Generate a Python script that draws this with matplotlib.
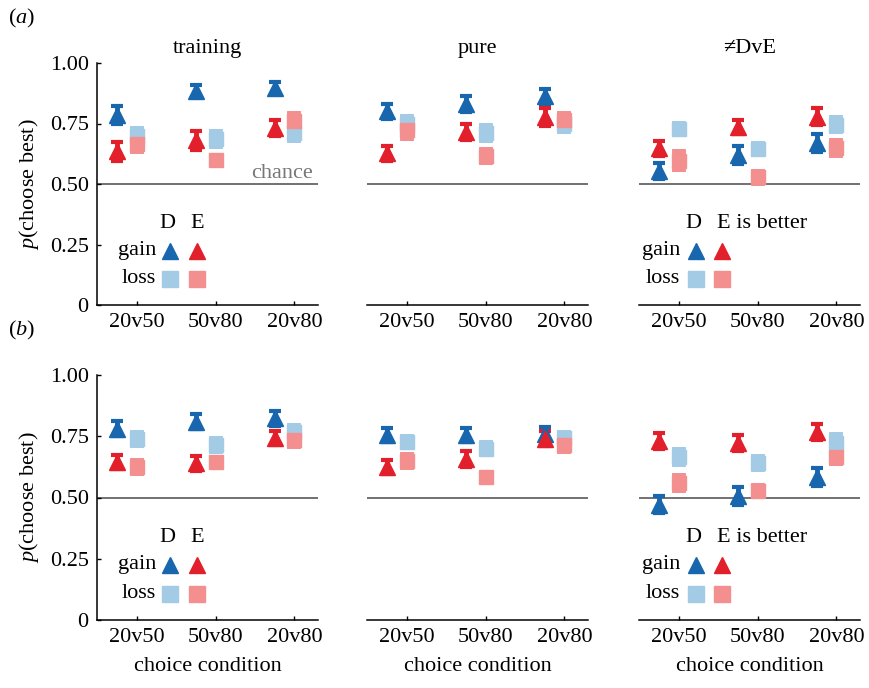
import matplotlib
matplotlib.use("Agg")
import matplotlib.pyplot as plt
import numpy as np

plt.rcParams['font.family'] = ['Liberation Serif', 'DejaVu Serif']
plt.rcParams['font.serif'] = ['Liberation Serif', 'DejaVu Serif']
plt.rcParams['mathtext.fontset'] = 'custom'
plt.rcParams['mathtext.rm'] = 'serif'
plt.rcParams['mathtext.it'] = 'serif:italic'

conditions = ["20v50", "50v80", "20v80"]
panel_titles = ["training", "pure", "\u2260DvE"]
yticks = [0, 0.25, 0.5, 0.75, 1.0]
ytick_labels = ["0", "0.25", "0.50", "0.75", "1.00"]

# row (a): values per panel [training, pure, ≠DvE]
a_D_gain = [[0.785, 0.885, 0.895], [0.800, 0.830, 0.862], [0.553, 0.620, 0.670]]
a_E_gain = [[0.635, 0.680, 0.730], [0.627, 0.715, 0.777], [0.648, 0.735, 0.777]]
a_D_loss = [[0.700, 0.685, 0.710], [0.750, 0.710, 0.750], [0.727, 0.645, 0.745]]
a_E_loss = [[0.665, 0.600, 0.760], [0.722, 0.615, 0.765], [0.597, 0.528, 0.650]]
a_D_gain_err = [[0.037, 0.025, 0.025], [0.030, 0.033, 0.030], [0.033, 0.036, 0.038]]
a_E_gain_err = [[0.039, 0.039, 0.033], [0.030, 0.035, 0.036], [0.031, 0.030, 0.035]]
a_D_loss_err = [[0.040, 0.042, 0.040], [0.040, 0.042, 0.042], [0.034, 0.034, 0.040]]
a_E_loss_err = [[0.042, 0.028, 0.042], [0.044, 0.036, 0.038], [0.046, 0.036, 0.042]]

# row (b)
b_D_gain = [[0.780, 0.810, 0.823], [0.755, 0.755, 0.760], [0.470, 0.505, 0.584]]
b_E_gain = [[0.645, 0.640, 0.743], [0.624, 0.657, 0.740], [0.730, 0.722, 0.767]]
b_D_loss = [[0.740, 0.715, 0.767], [0.727, 0.700, 0.742], [0.665, 0.640, 0.722]]
b_E_loss = [[0.625, 0.645, 0.735], [0.650, 0.584, 0.714], [0.560, 0.527, 0.665]]
b_D_gain_err = [[0.031, 0.030, 0.030], [0.030, 0.030, 0.028], [0.035, 0.036, 0.036]]
b_E_gain_err = [[0.028, 0.030, 0.030], [0.030, 0.034, 0.030], [0.033, 0.033, 0.031]]
b_D_loss_err = [[0.036, 0.036, 0.036], [0.034, 0.034, 0.034], [0.040, 0.036, 0.044]]
b_E_loss_err = [[0.038, 0.030, 0.036], [0.036, 0.030, 0.036], [0.040, 0.033, 0.038]]

C_DG = '#1866ad'
C_EG = '#e2202b'
C_DL = '#a3cbe5'
C_EL = '#f3908f'

W, H = 869, 688
fig = plt.figure(figsize=(W / 100, H / 100), dpi=100)

lefts = [97, 367, 639]
width_px = 221
rows = [
    dict(top=63, bottom=305, data=(a_D_gain, a_E_gain, a_D_loss, a_E_loss),
         err=(a_D_gain_err, a_E_gain_err, a_D_loss_err, a_E_loss_err), label="a"),
    dict(top=375, bottom=620, data=(b_D_gain, b_E_gain, b_D_loss, b_E_loss),
         err=(b_D_gain_err, b_E_gain_err, b_D_loss_err, b_E_loss_err), label="b"),
]

FS = 16
x = np.arange(3)
tri_off = -0.25

for ri, row in enumerate(rows):
    for pi in range(3):
        l = lefts[pi] / W
        b = 1 - row['bottom'] / H
        h = (row['bottom'] - row['top']) / H
        ax = fig.add_axes([l, b, width_px / W, h])
        ax.set_xlim(-0.51, 2.30)
        ax.set_ylim(0, 1.0)
        for s in ['top', 'right']:
            ax.spines[s].set_visible(False)
        ax.spines['bottom'].set_linewidth(1.1)
        ax.spines['left'].set_linewidth(1.1)
        ax.axhline(0.5, color='#666666', lw=1.3, zorder=1)

        dg, eg, dl, el = row['data']
        dge, ege, dle, ele = row['err']
        # squares (loss)
        for vals, errs, col in ((dl, dle, C_DL), (el, ele, C_EL)):
            ax.errorbar(x, vals[pi], yerr=errs[pi], fmt='s', color=col, ms=10,
                        mec=col, elinewidth=10, capsize=0, zorder=3)
        # triangles (gain)
        for vals, errs, col in ((dg, dge, C_DG), (eg, ege, C_EG)):
            ax.errorbar(x + tri_off, vals[pi], yerr=errs[pi], fmt='^', color=col,
                        ms=11, mec=col, elinewidth=3.5, capsize=4.5, capthick=3, zorder=4)

        ax.set_xticks(x)
        ax.set_xticklabels(conditions, fontsize=FS)
        ax.tick_params(axis='x', direction='in', length=3, width=1, pad=6)
        if pi == 0:
            ax.set_yticks(yticks)
            ax.set_yticklabels(ytick_labels, fontsize=FS)
            ax.tick_params(axis='y', direction='in', length=3, width=1, pad=6)
            ax.set_ylabel(r'$p$(choose best)', fontsize=FS, labelpad=6,
                          family=['Liberation Serif', 'DejaVu Serif'])
        else:
            ax.spines['left'].set_visible(False)
            ax.set_yticks([])
        if ri == 0:
            ax.text(0.5, 1.02, panel_titles[pi], transform=ax.transAxes,
                    ha='center', va='bottom', fontsize=FS)
        if ri == 1:
            ax.set_xlabel('choice condition', fontsize=FS, labelpad=7)
        if ri == 0 and pi == 0:
            ax.text(0.975, 0.503, 'chance', transform=ax.transAxes, ha='right',
                    va='bottom', fontsize=FS, color='#777777')

        # legends
        if pi == 0:
            xl, xt1, xt2, xD, xE = 0.268, 0.330, 0.452, 0.317, 0.452
            etxt, eha = 'E', 'center'
        elif pi == 2:
            xl, xt1, xt2, xD, xE = 0.186, 0.258, 0.376, 0.244, 0.351
            etxt, eha = 'E is better', 'left'
        else:
            continue
        ax.text(xD, 0.335, 'D', transform=ax.transAxes, ha='center', va='center', fontsize=FS)
        ax.text(xE, 0.335, etxt, transform=ax.transAxes, ha=eha, va='center', fontsize=FS)
        ax.text(xl, 0.225, 'gain', transform=ax.transAxes, ha='right', va='center', fontsize=FS)
        ax.text(xl, 0.108, 'loss', transform=ax.transAxes, ha='right', va='center', fontsize=FS)
        ax.plot([xt1], [0.225], '^', color=C_DG, ms=12, transform=ax.transAxes, clip_on=False)
        ax.plot([xt2], [0.225], '^', color=C_EG, ms=12, transform=ax.transAxes, clip_on=False)
        ax.plot([xt1], [0.108], 's', color=C_DL, ms=12, transform=ax.transAxes, clip_on=False)
        ax.plot([xt2], [0.108], 's', color=C_EL, ms=12, transform=ax.transAxes, clip_on=False)

fig.text(8 / W, 1 - 18 / H, r'($a$)', fontsize=FS, ha='left', va='center')
fig.text(8 / W, 1 - 330 / H, r'($b$)', fontsize=FS, ha='left', va='center')

fig.savefig('out.png', dpi=100)
